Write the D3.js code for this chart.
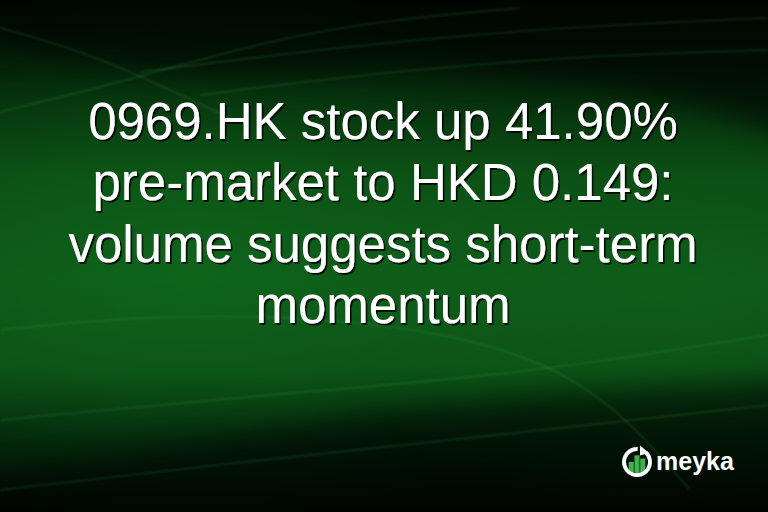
<!DOCTYPE html>
<html><head><meta charset="utf-8">
<script src="https://cdn.jsdelivr.net/npm/d3@7"></script>
<style>html,body{margin:0;padding:0;background:#000;}svg{display:block;}</style>
</head><body>
<svg id="c" width="768" height="512"></svg>
<script>
const titleLines = ["0969.HK stock up 41.90%", "pre-market to HKD 0.149:", "volume suggests short-term", "momentum"];
const brand = "meyka";
const logoBars = [0.55, 0.85, 0.7];

const W = 768, H = 512;
const svg = d3.select("#c");
const defs = svg.append("defs");

const bg = defs.append("linearGradient").attr("id","bg").attr("x1",0).attr("y1",0).attr("x2",0).attr("y2",1);
[[0,"#010d03"],[0.14,"#031f08"],[0.34,"#0a4812"],[0.55,"#0c5417"],[0.72,"#0a4c14"],[0.86,"#03220a"],[1,"#010a02"]]
  .forEach(([o,c])=>bg.append("stop").attr("offset",o).attr("stop-color",c));
svg.append("rect").attr("width",W).attr("height",H).attr("fill","url(#bg)");

const rg = defs.append("radialGradient").attr("id","glow").attr("cx",0.25).attr("cy",0.5).attr("r",0.55);
rg.append("stop").attr("offset",0).attr("stop-color","#158a25").attr("stop-opacity",0.3);
rg.append("stop").attr("offset",1).attr("stop-color","#158a25").attr("stop-opacity",0);
svg.append("rect").attr("width",W).attr("height",H).attr("fill","url(#glow)");

const rg2 = defs.append("radialGradient").attr("id","glow2").attr("cx",0.85).attr("cy",0.55).attr("r",0.45);
rg2.append("stop").attr("offset",0).attr("stop-color","#12701e").attr("stop-opacity",0.35);
rg2.append("stop").attr("offset",1).attr("stop-color","#12701e").attr("stop-opacity",0);
svg.append("rect").attr("width",W).attr("height",H).attr("fill","url(#glow2)");

defs.append("filter").attr("id","blur").attr("x","-20%").attr("y","-20%").attr("width","140%").attr("height","140%")
  .append("feGaussianBlur").attr("stdDeviation",14);
defs.append("filter").attr("id","sblur").append("feGaussianBlur").attr("stdDeviation",0.8);
const sh = defs.append("filter").attr("id","shadow").attr("x","-5%").attr("y","-20%").attr("width","110%").attr("height","140%");
sh.append("feDropShadow").attr("dx",1.6).attr("dy",1.8).attr("stdDeviation",0.5).attr("flood-color","#000").attr("flood-opacity",0.9);

// dark sweeping bands (curve edge + frame corners)
const ln = d3.line().curve(d3.curveBasis);
const topEdge = [[-40,40],[120,70],[260,80],[420,65],[600,80],[808,140]];
const botEdge = [[-40,480],[200,440],[420,405],[620,390],[808,380]];
svg.append("path").attr("d",ln(topEdge)+"L808,-40L-40,-40Z").attr("fill","#000").attr("opacity",0.55).attr("filter","url(#blur)");
svg.append("path").attr("d",ln(botEdge)+"L808,552L-40,552Z").attr("fill","#000").attr("opacity",0.5).attr("filter","url(#blur)");

// light streaks
const streaks = [
  [[0,28],[80,50],[160,85],[230,118]],
  [[0,112],[130,80],[260,42],[384,20],[520,8]],
  [[140,72],[330,48],[540,28],[768,18]],
  [[200,95],[400,70],[600,55],[768,50]],
  [[0,330],[180,312],[400,322],[550,360],[630,420],[690,490]],
  [[0,490],[240,462],[500,435],[768,405]],
  [[0,420],[260,395],[520,375],[768,335]]
];
svg.selectAll("path.streak").data(streaks).join("path").attr("class","streak")
  .attr("d",ln).attr("fill","none").attr("stroke","#4cc25c").attr("stroke-width",1.4).attr("opacity",0.22).attr("filter","url(#sblur)");

// title
const y = d3.scaleLinear().domain([0,3]).range([139,323]);
const g = svg.append("g").attr("font-family","'Liberation Sans', Arial, sans-serif").attr("font-size",51)
  .attr("text-anchor","middle").attr("filter","url(#shadow)");
g.selectAll("text").data(titleLines).join("text")
  .attr("x",W/2 - 1).attr("y",(d,i)=>y(i)).attr("fill","#fff").text(d=>d);

// logo
const lg = svg.append("g").attr("transform","translate(637,462)");
const clip = defs.append("clipPath").attr("id","lc");
clip.append("circle").attr("r",11);
const bx = d3.scaleBand().domain(d3.range(logoBars.length)).range([-9,9]).padding(0.12);
const by = d3.scaleLinear().domain([0,1]).range([12,-10]);
lg.append("g").attr("clip-path","url(#lc)").selectAll("rect").data(logoBars).join("rect")
  .attr("x",(d,i)=>bx(i)).attr("width",bx.bandwidth()).attr("y",d=>by(d)).attr("height",d=>12-by(d)).attr("fill","#3fb24e");
const arc = d3.arc().innerRadius(11).outerRadius(15).startAngle(0.75).endAngle(2*Math.PI+0.05);
lg.append("path").attr("d",arc()).attr("fill","#fff");
lg.append("path").attr("d","M3,-16.5 L12,-9 L3,-6.5 Z").attr("fill","#fff");
svg.append("text").attr("x",656).attr("y",470).attr("font-family","'Liberation Sans', Arial, sans-serif")
  .attr("font-weight","bold").attr("font-size",25).attr("fill","#fff").text(brand);
</script>
</body></html>
